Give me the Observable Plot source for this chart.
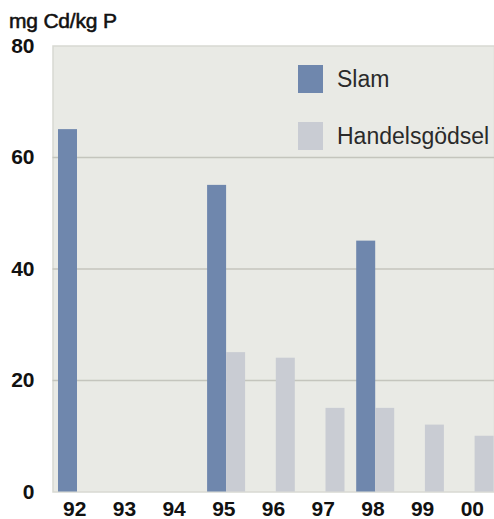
<!DOCTYPE html>
<html><head><meta charset="utf-8">
<script src="https://cdn.jsdelivr.net/npm/d3@7"></script>
<script src="https://cdn.jsdelivr.net/npm/@observablehq/plot@0.6"></script>
<style>
body{margin:0;background:#fff;}
#wrap{position:relative;width:494px;height:519px;overflow:hidden;font-family:"Liberation Sans",Arial,sans-serif;}
#title{position:absolute;left:9px;top:10px;font-size:21px;line-height:21px;font-weight:normal;-webkit-text-stroke:0.55px #111;color:#111;letter-spacing:-0.2px;white-space:nowrap;}
#legend{position:absolute;left:298px;top:65px;}
.item{display:flex;align-items:center;height:28px;margin-bottom:29px;}
.sw{width:25px;height:28px;margin-right:14px;flex:none;}
.lab{font-size:23px;color:#2a2a2a;white-space:nowrap;}
</style></head><body><div id="wrap"></div>
<script>
const years = ["92","93","94","95","96","97","98","99","00"];
const slam = [65, null, null, 55, null, null, 45, null, null];
const handelsgodsel = [null, null, null, 25, 24, 15, 15, 12, 10];
const seriesNames = ["Slam", "Handelsgödsel"];
const seriesColors = ["#6f87ad", "#c9ccd3"];
const yTicks = [0, 20, 40, 60, 80];
const gridTicks = [20, 40, 60];
const yLabel = "mg Cd/kg P";

const rows = [];
years.forEach((yr, i) => {
  if (slam[i] != null) rows.push({year: yr, series: seriesNames[0], value: slam[i]});
  if (handelsgodsel[i] != null) rows.push({year: yr, series: seriesNames[1], value: handelsgodsel[i]});
});

const step = 49.7, x0 = 58, barW = 19;
const font = "'Liberation Sans', Arial, sans-serif";
const chart = Plot.plot({
  width: 494, height: 519,
  marginTop: 45.5, marginBottom: 27.5, marginLeft: 52.5, marginRight: 0,
  style: {fontFamily: font, background: "transparent", overflow: "visible", color: "#111"},
  x: {domain: years, range: [x0, x0 + step * years.length], padding: 0, round: false, axis: null},
  y: {domain: [0, 80], axis: null},
  color: {domain: seriesNames, range: seriesColors},
  marks: [
    Plot.frame({fill: "#e9eae5", stroke: "#d8d9d2", strokeWidth: 1.5}),
    Plot.ruleY(gridTicks, {stroke: "#c4c5bd", strokeWidth: 1.5}),
    Plot.barY(rows.filter(d => d.series === seriesNames[0]), {x: "year", y: "value", fill: "series", insetLeft: 0, insetRight: step - barW}),
    Plot.barY(rows.filter(d => d.series === seriesNames[1]), {x: "year", y: "value", fill: "series", insetLeft: barW, insetRight: step - 2 * barW}),
    Plot.axisX({ticks: years, tickSize: 0, tickPadding: 9.5, dx: -8.65, fontSize: 21, fontWeight: "bold", label: null}),
    Plot.axisY({ticks: yTicks, tickSize: 0, tickPadding: 18.5, fontSize: 21, fontWeight: "bold", label: null})
  ]
});
const wrap = document.getElementById("wrap");
wrap.appendChild(chart);
const t = document.createElement("div");
t.id = "title"; t.textContent = yLabel; wrap.appendChild(t);
const lg = document.createElement("div");
lg.id = "legend";
seriesNames.forEach((n, i) => {
  const it = document.createElement("div"); it.className = "item";
  const sw = document.createElement("div"); sw.className = "sw"; sw.style.background = seriesColors[i];
  const lb = document.createElement("div"); lb.className = "lab"; lb.textContent = n;
  it.appendChild(sw); it.appendChild(lb); lg.appendChild(it);
});
wrap.appendChild(lg);
</script></body></html>
